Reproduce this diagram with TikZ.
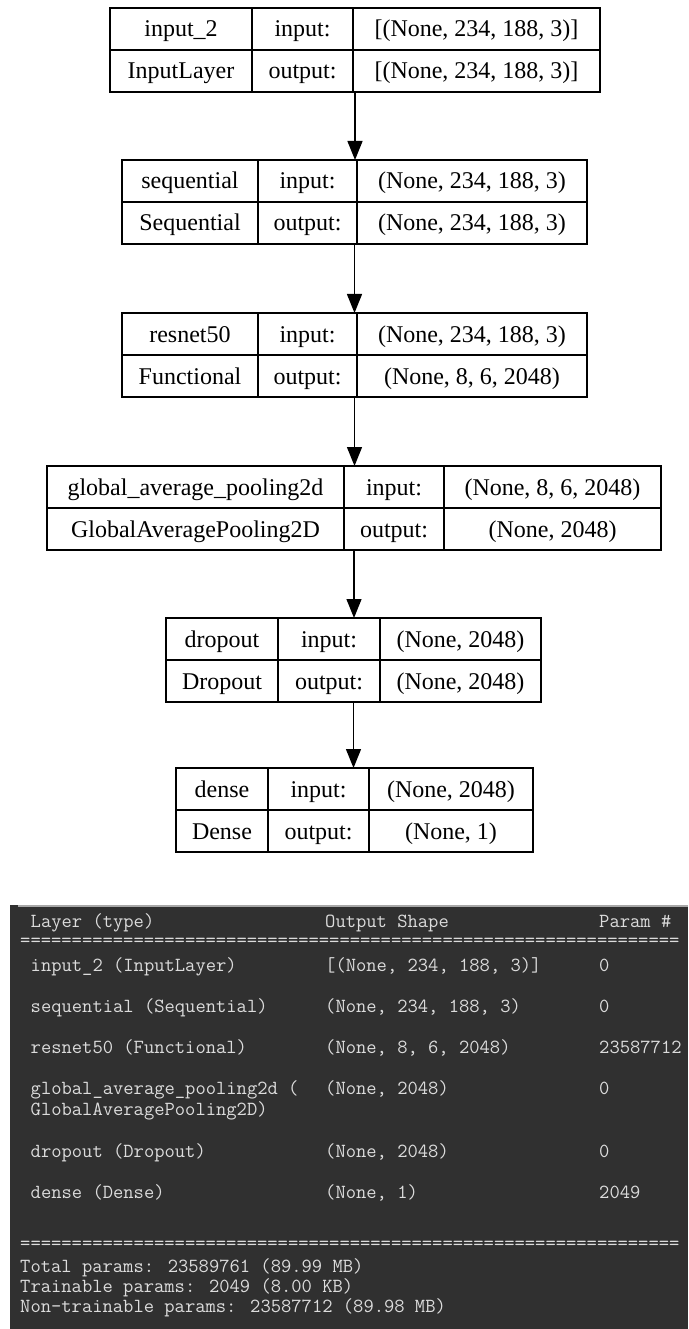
\documentclass[tikz,border=0pt]{standalone}
\usepackage{fontspec}
\setmainfont{Liberation Serif}
\usetikzlibrary{arrows.meta}
\definecolor{panelbg}{HTML}{303030}
\definecolor{termtext}{HTML}{DCDCDC}
\definecolor{panelline}{HTML}{A8A8A8}
\tikzset{
  frame/.style={draw=black, line width=1.3pt, inner sep=0pt, outer sep=0pt},
  divider/.style={draw=black, line width=1.3pt},
  cell/.style={anchor=base, inner sep=0pt, font=\fontsize{24}{28}\selectfont},
  flow/.style={draw=black, line width=1.3pt, -{Triangle[length=19pt,width=15pt]}},
  term/.style={anchor=base west, inner sep=0pt, text=termtext, font=\ttfamily\addfontfeatures{FakeBold=2.5}\fontsize{20}{21}\selectfont},
}
% #1 name, #2 top, #3..#6 x positions, #7 layer name, #8 class name
\newcommand\layerbox[8]{%
  \pgfmathsetmacro\lbyt{#2}\pgfmathsetmacro\lbyb{#2+84}\pgfmathsetmacro\lbym{#2+42}%
  \pgfmathsetmacro\lbw{#6-#3}\pgfmathsetmacro\lbcx{(#3+#6)/2}%
  \pgfmathsetmacro\lbrA{#2+29}\pgfmathsetmacro\lbrB{#2+71}%
  \pgfmathsetmacro\lbxA{(#3+#4)/2}\pgfmathsetmacro\lbxB{(#4+#5)/2}\pgfmathsetmacro\lbxC{(#5+#6)/2}%
  \node[frame, minimum width=\lbw pt, minimum height=84pt] (#1) at (\lbcx,\lbym) {};
  \draw[divider] (#3,\lbym) -- (#6,\lbym);
  \draw[divider] (#4,\lbyt) -- (#4,\lbyb);
  \draw[divider] (#5,\lbyt) -- (#5,\lbyb);
  \node[cell] (#1-name) at (\lbxA,\lbrA) {#7};
  \node[cell] (#1-class) at (\lbxA,\lbrB) {#8};
  \node[cell] (#1-inlab) at (\lbxB,\lbrA) {input:};
  \node[cell] (#1-outlab) at (\lbxB,\lbrB) {output:};
}
\newcommand\layershapes[3]{%
  \node[cell] (#1-in) at (\lbxC,\lbrA) {#2};
  \node[cell] (#1-out) at (\lbxC,\lbrB) {#3};
}
\begin{document}
\begin{tikzpicture}[x=1pt,y=-1pt]
\useasboundingbox (0,0) rectangle (688,1329);
\fill[white] (0,0) rectangle (688,1329);

\layerbox{b1}{8}{110}{252}{353}{600}{input\_2}{InputLayer}
\layershapes{b1}{[(None, 234, 188, 3)]}{[(None, 234, 188, 3)]}
\layerbox{b2}{160}{122}{258}{357}{587}{sequential}{Sequential}
\layershapes{b2}{(None, 234, 188, 3)}{(None, 234, 188, 3)}
\layerbox{b3}{313}{122}{258}{357}{587}{resnet50}{Functional}
\layershapes{b3}{(None, 234, 188, 3)}{(None, 8, 6, 2048)}
\layerbox{b4}{466}{47}{344}{444}{661}{global\_average\_pooling2d}{GlobalAveragePooling2D}
\layershapes{b4}{(None, 8, 6, 2048)}{(None, 2048)}
\layerbox{b5}{618}{166}{278}{380}{541}{dropout}{Dropout}
\layershapes{b5}{(None, 2048)}{(None, 2048)}
\layerbox{b6}{768}{176}{268}{369}{533}{dense}{Dense}
\layershapes{b6}{(None, 2048)}{(None, 1)}

\draw[flow] (b1.south) -- (b1.south |- b2.north);
\draw[flow] (b2.south) -- (b2.south |- b3.north);
\draw[flow] (b3.south) -- (b3.south |- b4.north);
\draw[flow] (b4.south) -- (b4.south |- b5.north);
\draw[flow] (b5.south) -- (b5.south |- b6.north);

% terminal summary panel
\fill[panelbg] (10,905) rectangle (688,1329);
\draw[panelline, line width=2pt] (18,906) -- (688,906);
\node[term] (hlayer) at (30.5,927) {Layer (type)};
\node[term] (hshape) at (325,927) {Output Shape};
\node[term] (hparam) at (599,927) {Param \#};
\node[term] (eqtop) at (20,946) {================================================================};
\node[term] (r1a) at (30.5,971) {input\_2 (InputLayer)};
\node[term] (r1b) at (325,971) {[(None, 234, 188, 3)]};
\node[term] (r1c) at (599,971) {0};
\node[term] (r2a) at (30.5,1012) {sequential (Sequential)};
\node[term] (r2b) at (325,1012) {(None, 234, 188, 3)};
\node[term] (r2c) at (599,1012) {0};
\node[term] (r3a) at (30.5,1053) {resnet50 (Functional)};
\node[term] (r3b) at (325,1053) {(None, 8, 6, 2048)};
\node[term] (r3c) at (599,1053) {23587712};
\node[term] (r4a) at (30.5,1094) {global\_average\_pooling2d (};
\node[term] (r4d) at (30.5,1115) {GlobalAveragePooling2D)};
\node[term] (r4b) at (325,1094) {(None, 2048)};
\node[term] (r4c) at (599,1094) {0};
\node[term] (r5a) at (30.5,1157) {dropout (Dropout)};
\node[term] (r5b) at (325,1157) {(None, 2048)};
\node[term] (r5c) at (599,1157) {0};
\node[term] (r6a) at (30.5,1198) {dense (Dense)};
\node[term] (r6b) at (325,1198) {(None, 1)};
\node[term] (r6c) at (599,1198) {2049};
\node[term] (eqbot) at (20,1249) {================================================================};
\node[term] (tot1) at (20,1272) {Total params: 23589761 (89.99 MB)};
\node[term] (tot2) at (20,1292) {Trainable params: 2049 (8.00 KB)};
\node[term] (tot3) at (20,1312) {Non-trainable params: 23587712 (89.98 MB)};
\end{tikzpicture}
\end{document}
